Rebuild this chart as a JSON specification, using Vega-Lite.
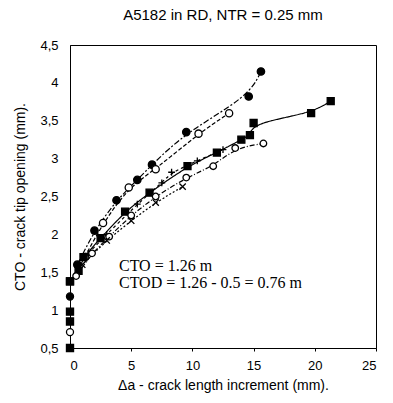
{
  "$schema": "https://vega.github.io/schema/vega-lite/v6.json",
  "width": 306,
  "height": 303,
  "autosize": "none",
  "padding": {"left": 70, "top": 45, "right": 17, "bottom": 55},
  "background": "white",
  "config": {
    "view": {"stroke": "black", "strokeWidth": 1},
    "font": "Liberation Sans",
    "axis": {"grid": false, "domainColor": "black", "tickColor": "black", "labelColor": "black", "titleColor": "black", "labelFont": "Liberation Sans", "titleFont": "Liberation Sans", "titleFontWeight": "normal", "labelFontSize": 13, "titleFontSize": 14}
  },
  "title": {"text": "A5182 in RD, NTR = 0.25 mm", "fontSize": 15, "fontWeight": "normal", "font": "Liberation Sans", "color": "black", "offset": 16},
  "datasets": {
    "curves": [
      {"s": "A", "x": 0.6, "y": 1.6}, {"s": "A", "x": 2, "y": 2.05}, {"s": "A", "x": 3.8, "y": 2.45}, {"s": "A", "x": 5.5, "y": 2.72}, {"s": "A", "x": 6.7, "y": 2.92}, {"s": "A", "x": 9.5, "y": 3.35}, {"s": "A", "x": 14.6, "y": 3.82}, {"s": "A", "x": 15.6, "y": 4.15},
      {"s": "B", "x": 1.2, "y": 1.7}, {"s": "B", "x": 2.7, "y": 2.15}, {"s": "B", "x": 4.8, "y": 2.62}, {"s": "B", "x": 7, "y": 2.86}, {"s": "B", "x": 10.5, "y": 3.33}, {"s": "B", "x": 13, "y": 3.6},
      {"s": "C", "x": 0, "y": 1.38}, {"s": "C", "x": 0.7, "y": 1.52}, {"s": "C", "x": 1.1, "y": 1.7}, {"s": "C", "x": 2.5, "y": 1.95}, {"s": "C", "x": 4.5, "y": 2.3}, {"s": "C", "x": 6.5, "y": 2.55}, {"s": "C", "x": 9.6, "y": 2.9}, {"s": "C", "x": 12, "y": 3.08}, {"s": "C", "x": 14, "y": 3.25}, {"s": "C", "x": 14.7, "y": 3.31}, {"s": "C", "x": 15, "y": 3.47}, {"s": "C", "x": 19.7, "y": 3.6}, {"s": "C", "x": 21.3, "y": 3.76},
      {"s": "D", "x": 1.5, "y": 1.75}, {"s": "D", "x": 3, "y": 2.0}, {"s": "D", "x": 5.5, "y": 2.4}, {"s": "D", "x": 7.5, "y": 2.68}, {"s": "D", "x": 8.3, "y": 2.82}, {"s": "D", "x": 10.4, "y": 2.97}, {"s": "D", "x": 12.5, "y": 3.12},
      {"s": "E", "x": 0.5, "y": 1.45}, {"s": "E", "x": 1.8, "y": 1.75}, {"s": "E", "x": 3.2, "y": 1.97}, {"s": "E", "x": 5, "y": 2.25}, {"s": "E", "x": 7, "y": 2.5}, {"s": "E", "x": 9.5, "y": 2.75}, {"s": "E", "x": 11.7, "y": 2.9}, {"s": "E", "x": 13.5, "y": 3.14}, {"s": "E", "x": 15.8, "y": 3.2},
      {"s": "F", "x": 1, "y": 1.6}, {"s": "F", "x": 3, "y": 1.92}, {"s": "F", "x": 5, "y": 2.18}, {"s": "F", "x": 7, "y": 2.42}, {"s": "F", "x": 9.2, "y": 2.63}
    ],
    "initial": [
      {"s": "C", "x": 0, "y": 0.5}, {"s": "B", "x": 0, "y": 0.71}, {"s": "C", "x": 0, "y": 0.85}, {"s": "C", "x": 0, "y": 0.98}, {"s": "A", "x": 0, "y": 1.18}, {"s": "C", "x": 0, "y": 1.38}
    ],
    "notes": [
      {"x": 4.0, "y": 1.58, "t": "CTO = 1.26 m"},
      {"x": 4.0, "y": 1.36, "t": "CTOD = 1.26 - 0.5 = 0.76 m"}
    ]
  },
  "layer": [
    {
      "data": {"name": "curves"},
      "mark": {"type": "line", "interpolate": "basis", "color": "black", "strokeWidth": 1.2},
      "encoding": {
        "x": {"field": "x", "type": "quantitative", "scale": {"domain": [0, 25], "nice": false}, "axis": {"values": [0, 5, 10, 15, 20, 25], "title": "Δa - crack length increment (mm).", "tickSize": 3, "labelPadding": 8, "titlePadding": 6}},
        "y": {"field": "y", "type": "quantitative", "scale": {"domain": [0.5, 4.5], "nice": false, "zero": false}, "axis": {"tickCount": 8, "labelOverlap": false, "labelExpr": "datum.value % 1 == 0 ? format(datum.value, 'd') : replace(format(datum.value, '.1f'), '.', ',')", "title": "CTO - crack tip opening (mm).", "tickSize": 0, "labelPadding": 12, "titlePadding": 12}},
        "detail": {"field": "s"},
        "strokeDash": {"field": "s", "type": "nominal", "scale": {"domain": ["A", "B", "C", "D", "E", "F"], "range": [[6, 2, 2, 2], [4, 2], [1, 0], [3, 3], [5, 2, 1, 2], [2, 2]]}, "legend": null}
      }
    },
    {
      "data": {"name": "curves"},
      "mark": {"type": "point", "stroke": "black", "strokeWidth": 1.3, "opacity": 1},
      "encoding": {
        "x": {"field": "x", "type": "quantitative"},
        "y": {"field": "y", "type": "quantitative"},
        "shape": {"field": "s", "type": "nominal", "scale": {"domain": ["A", "B", "C", "D", "E", "F"], "range": ["circle", "circle", "square", "M-1,0L1,0M0,-1L0,1", "circle", "M-1,-1L1,1M-1,1L1,-1"]}, "legend": null},
        "fill": {"field": "s", "type": "nominal", "scale": {"domain": ["A", "B", "C", "D", "E", "F"], "range": ["black", "white", "black", "white", "white", "white"]}, "legend": null},
        "size": {"field": "s", "type": "nominal", "scale": {"domain": ["A", "B", "C", "D", "E", "F"], "range": [55, 40, 60, 70, 40, 50]}, "legend": null}
      }
    },
    {
      "data": {"name": "initial"},
      "mark": {"type": "point", "stroke": "black", "strokeWidth": 1.3, "opacity": 1},
      "encoding": {
        "x": {"field": "x", "type": "quantitative"},
        "y": {"field": "y", "type": "quantitative"},
        "shape": {"field": "s", "type": "nominal", "scale": {"domain": ["A", "B", "C", "D", "E", "F"], "range": ["circle", "circle", "square", "M-1,0L1,0M0,-1L0,1", "circle", "M-1,-1L1,1M-1,1L1,-1"]}, "legend": null},
        "fill": {"field": "s", "type": "nominal", "scale": {"domain": ["A", "B", "C", "D", "E", "F"], "range": ["black", "white", "black", "white", "white", "white"]}, "legend": null},
        "size": {"value": 50}
      }
    },
    {
      "data": {"name": "notes"},
      "mark": {"type": "text", "align": "left", "baseline": "middle", "font": "Liberation Serif", "fontSize": 16, "color": "black"},
      "encoding": {
        "x": {"field": "x", "type": "quantitative"},
        "y": {"field": "y", "type": "quantitative"},
        "text": {"field": "t"}
      }
    }
  ]
}
